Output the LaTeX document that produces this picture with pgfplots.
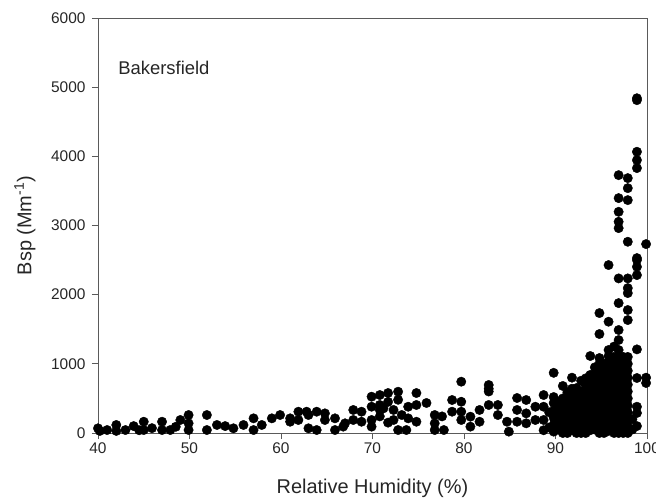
\documentclass[border=0pt]{standalone}
\usepackage{fontspec}
\setmainfont{Liberation Sans}
\usepackage{pgfplots}
\pgfplotsset{compat=1.18}
\usepackage{pgfplotstable}
\definecolor{axisgray}{RGB}{90,90,90}
\pgfplotstableread{
x y
40 68
40.2 30
41 43
42 116
42 30
43 43
43.9 100
44.5 40
45 163
45 43
45.9 70
47 163
47 43
47.9 43
48.5 90
49 188
49.9 260
49.9 140
49.9 43
51.9 260
51.9 43
53 116
53.9 100
54.8 68
55.9 116
57 212
57 43
57.9 116
59 212
59.9 260
61 163
61 212
61.9 308
61.9 188
62.8 308
63 260
63 68
63.9 308
63.9 43
64.8 284
64.8 188
65.9 212
65.9 43
66.8 92
67 140
67.9 333
67.9 188
68.8 308
68.8 163
69.9 525
69.9 380
69.9 188
69.9 92
70.8 549
70.8 405
70.8 333
70.8 240
71.7 578
71.7 450
71.7 150
71.2 356
72.3 333
72.3 188
72.8 597
72.8 480
72.8 43
73.2 260
73.7 43
73.9 212
73.9 380
74.8 578
74.8 405
74.8 163
75.9 434
76.8 260
76.8 140
76.8 43
77.6 240
77.8 43
78.7 477
78.7 308
79.7 742
79.7 452
79.7 308
79.7 188
80.7 236
80.7 92
81.7 333
81.7 163
82.7 694
82.7 640
82.7 600
82.7 405
83.7 405
83.7 260
84.7 163
84.9 20
85.8 506
85.8 333
85.8 163
86.8 477
86.8 284
86.8 140
87.8 380
87.8 188
88.7 549
88.7 380
88.7 188
88.7 40
89.3 300
89.3 80
89.8 20
89.8 120
89.8 220
89.8 320
89.8 434
89.8 520
89.8 870
90.3 50
90.3 150
90.3 250
90.3 350
90.3 450
90.8 0
90.8 100
90.8 200
90.8 300
90.8 400
90.8 500
90.8 680
91.3 0
91.3 90
91.3 190
91.3 290
91.3 390
91.3 490
91.3 590
91.8 40
91.8 140
91.8 240
91.8 340
91.8 440
91.8 540
91.8 640
91.8 800
92.3 0
92.3 50
92.3 150
92.3 250
92.3 350
92.3 450
92.3 550
92.3 650
92.8 0
92.8 100
92.8 200
92.8 300
92.8 400
92.8 500
92.8 600
92.8 756
93.3 0
93.3 90
93.3 190
93.3 290
93.3 390
93.3 490
93.3 590
93.3 690
93.3 790
93.8 40
93.8 140
93.8 240
93.8 340
93.8 440
93.8 540
93.8 640
93.8 740
93.8 840
93.8 1113
94.3 50
94.3 150
94.3 250
94.3 350
94.3 450
94.3 550
94.3 650
94.3 750
94.3 850
94.3 950
94.8 0
94.8 100
94.8 200
94.8 300
94.8 400
94.8 500
94.8 600
94.8 700
94.8 800
94.8 900
94.8 1000
94.8 1084
94.8 1431
94.8 1734
95.3 0
95.3 100
95.3 200
95.3 300
95.3 400
95.3 500
95.3 600
95.3 700
95.3 800
95.3 900
95.3 1000
95.8 30
95.8 130
95.8 230
95.8 330
95.8 430
95.8 530
95.8 630
95.8 730
95.8 830
95.8 930
95.8 1030
95.8 1113
95.8 1200
95.8 1609
95.8 2428
96.4 0
96.4 100
96.4 200
96.4 300
96.4 400
96.4 500
96.4 600
96.4 700
96.4 800
96.4 900
96.4 1000
96.4 1100
96.4 1250
96.9 0
96.9 100
96.9 200
96.9 300
96.9 400
96.9 500
96.9 600
96.9 700
96.9 800
96.9 900
96.9 1000
96.9 1100
96.9 1200
96.9 1344
96.9 1489
96.9 1878
96.9 2235
96.9 2962
96.9 3054
96.9 3198
96.9 3396
96.9 3728
97.4 0
97.4 100
97.4 200
97.4 300
97.4 400
97.4 500
97.4 600
97.4 700
97.4 800
97.4 900
97.4 1000
97.4 1100
97.9 0
97.9 100
97.9 200
97.9 300
97.9 400
97.9 500
97.9 600
97.9 700
97.9 800
97.9 900
97.9 1000
97.9 1100
97.9 1633
97.9 1778
97.9 2023
97.9 2095
97.9 2235
97.9 2765
97.9 3367
97.9 3540
97.9 3685
98.4 50
98.4 200
98.9 100
98.9 289
98.9 380
98.9 795
98.9 1209
98.9 2283
98.9 2403
98.9 2500
98.9 2529
98.9 3830
98.9 3945
98.9 4066
98.9 4812
98.9 4840
99.9 723
99.9 800
99.9 2731
}\bsp
\begin{document}
\begin{tikzpicture}
\useasboundingbox (-98bp,-71bp) rectangle (558bp,433bp);
\begin{axis}[
  scale only axis,
  width=549bp, height=415bp,
  xmin=40, xmax=100, ymin=0, ymax=6000,
  xtick={40,50,...,100},
  ytick={0,1000,...,6000},
  tick pos=left,
  tick align=outside,
  major tick length=6bp,
  axis line style={axisgray, line width=0.9pt},
  every tick/.style={axisgray, line width=0.9pt},
  /pgf/number format/assume math mode=true,
  scaled y ticks=false,
  y tick label style={/pgf/number format/1000 sep={}, xshift=-3bp},
  ticklabel style={font=\fontsize{15.5}{18}\selectfont, text=black!85},
  xlabel={Relative Humidity (\%)},
  ylabel={Bsp (Mm\textsuperscript{-1})},
  label style={font=\fontsize{20}{24}\selectfont, text=black!85},
  xlabel style={at={(axis description cs:0.5,-0.1325)}, anchor=center},
  ylabel style={at={(axis description cs:-0.133,0.5)}, anchor=center},
  clip=false,
]
\addplot[only marks, mark=*, mark size=4.7bp, mark options={fill=black, draw=black}] table[x=x,y=y] {\bsp};
\node[font=\fontsize{18.5}{22}\selectfont, text=black!85] at (rel axis cs:0.12,0.88) {Bakersfield};
\end{axis}
\end{tikzpicture}
\end{document}
